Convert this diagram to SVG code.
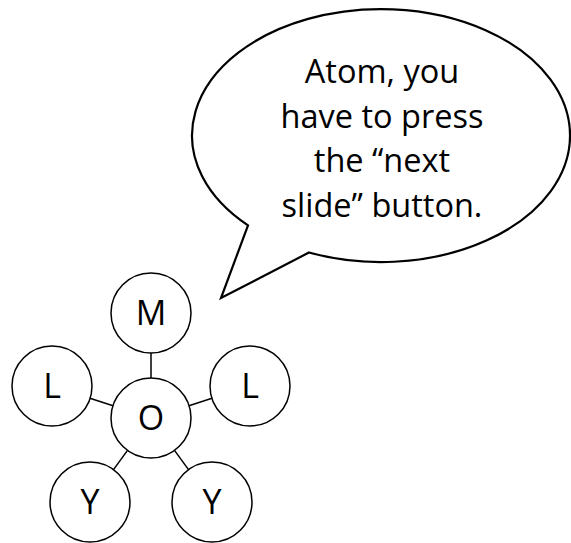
<svg xmlns="http://www.w3.org/2000/svg" width="571" height="543" viewBox="0 0 571 543">
<style>
.n{fill:#fff;stroke:#000;stroke-width:1.5}
.c{stroke:#000;stroke-width:1.5;fill:none}
.t{font-family:"Open Sans","Liberation Sans",sans-serif;font-size:34px;fill:#000;text-anchor:middle}
.b{font-family:"Open Sans","Liberation Sans",sans-serif;font-size:32.5px;fill:#000;text-anchor:middle}
</style>
<rect width="571" height="543" fill="#fff"/>
<g id="bubble">
<path fill="#fff" stroke="#000" stroke-width="2.2" stroke-linejoin="miter" d="M248,225.4 A189,126.5 0 1 1 309,252.5 L221,298 Z"/>
<text class="b" x="382" y="83">Atom, you</text>
<text class="b" x="382" y="128">have to press</text>
<text class="b" x="382" y="172">the “next</text>
<text class="b" x="382" y="217">slide” button.</text>
</g>
<g id="connectors">
<line class="c" x1="151" y1="353" x2="151" y2="378"/>
<line class="c" x1="90" y1="398.3" x2="113" y2="405.7"/>
<line class="c" x1="189" y1="405.7" x2="212" y2="398.3"/>
<line class="c" x1="113.5" y1="469.6" x2="127.5" y2="450.4"/>
<line class="c" x1="174.5" y1="450.4" x2="188.5" y2="469.6"/>
</g>
<g id="node-M"><circle class="n" cx="151" cy="313" r="40"/><text class="t" x="151" y="325">M</text></g>
<g id="node-O"><circle class="n" cx="151" cy="418" r="40"/><text class="t" x="151" y="430">O</text></g>
<g id="node-L1"><circle class="n" cx="52" cy="386" r="40"/><text class="t" x="52" y="398">L</text></g>
<g id="node-L2"><circle class="n" cx="250" cy="386" r="40"/><text class="t" x="250" y="398">L</text></g>
<g id="node-Y1"><circle class="n" cx="90" cy="502" r="40"/><text class="t" x="90" y="514">Y</text></g>
<g id="node-Y2"><circle class="n" cx="212" cy="502" r="40"/><text class="t" x="212" y="514">Y</text></g>
</svg>
